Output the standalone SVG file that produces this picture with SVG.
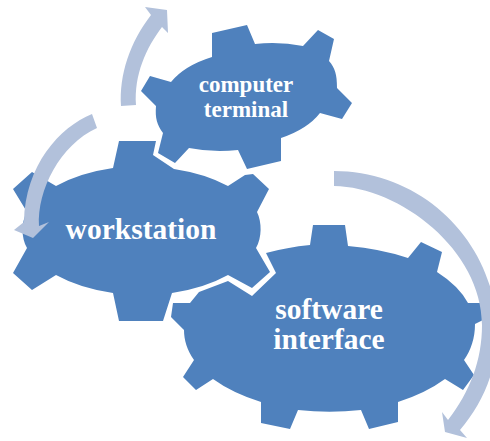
<svg xmlns="http://www.w3.org/2000/svg" width="490" height="441" viewBox="0 0 490 441">
<style>
.gear{fill:#4f81bd}
.arrow{fill:#b2c1db}
text{font-family:"Liberation Serif","Times New Roman",serif;font-weight:bold;fill:#fff;text-anchor:middle}
.big{font-size:29.5px}
.small{font-size:23px}
</style>
<rect width="490" height="441" fill="#fff"/>
<g id="workstation">
<path class="gear" d="M119 141H156L153 155L174 169A125 68 0 0 1 228 186L245 175L253 174L269 189L257 212C262 222 262 238 256 248L270 272L252 288L228 275A125 68 0 0 1 172 293L163 321H119L113 293A125 68 0 0 1 56 275L32 290L13 273L27 248C21 238 21 222 27 212L13 189L32 172L56 186A125 68 0 0 1 113 168Z"/>
<text class="big" x="141" y="238.5">workstation</text>
</g>
<g id="computer-terminal">
<path class="gear" d="M212 33L247 25L255 44A95 55 0 0 1 303 46L318 30L334 39L329 61C335 68 337 74 337 88L352 103L342 119L320 113A95 55 0 0 1 281 138V161L247 169L238 150A95 55 0 0 1 189 148L175 163L158 153L163 133C157 125 155 118 156 106L141 91L150 76L171 82A95 55 0 0 1 212 57Z"/>
<text class="small" x="246" y="92">computer</text>
<text class="small" x="246" y="117">terminal</text>
</g>
<g id="software-interface">
<path class="gear" d="M313 225H345L348 246A160 85 0 0 1 408 258L421 242L442 252L437 272A160 85 0 0 1 468 303H482L483 320L475 324C475 338 471 350 464 360L474 375L463 390L445 379A160 85 0 0 1 398 402V422L369 429L361 410A160 85 0 0 1 298 410L290 429L261 423V402A160 85 0 0 1 213 379L196 390L183 377L194 360C187 350 184 340 184 330L171 317L173 303L190 303L199 292L228 281L252 296L276 273L266 253A160 85 0 0 1 310 245Z"/>
<text class="big" x="329" y="319">software</text>
<text class="big" x="329" y="349">interface</text>
</g>
<g id="connectors">
<path class="arrow" d="M121 106C119 75 130 42 151 15L145 7L167 10L168 33L162 27C146 48 134 75 136 105Z"/>
<path class="arrow" d="M92 114C60 127 25 165 24 222L14 230L33 238L49 222L39 226C37 190 60 145 97 128Z"/>
<path class="arrow" d="M334 171C425 171 497 245 497 333C497 370 483 403 460 430L467 438L445 432L442 412L448 420C470 392 482 360 482 325C482 250 400 187 334 186Z"/>
</g>
</svg>
